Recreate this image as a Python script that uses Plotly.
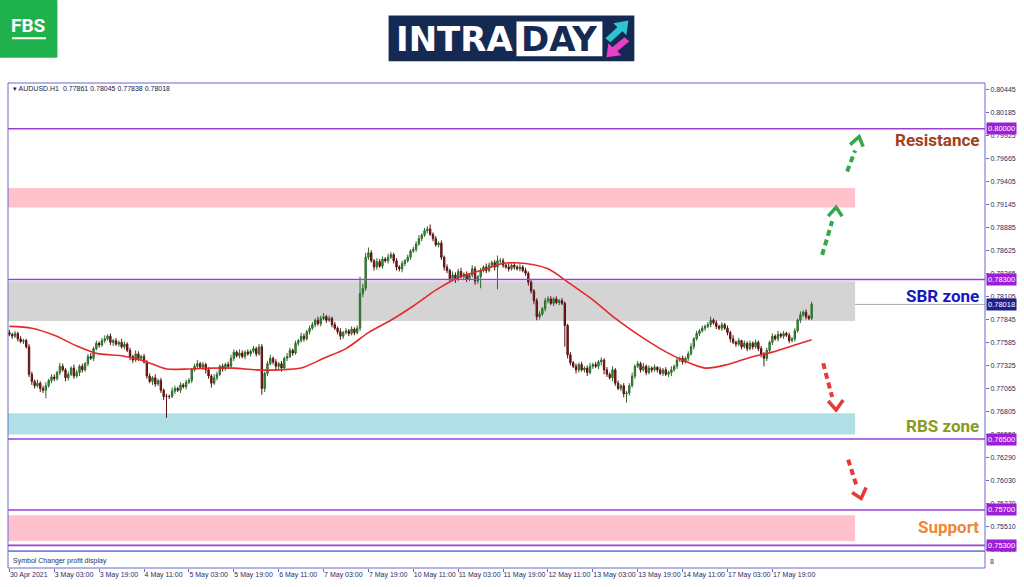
import plotly.graph_objects as go

# ---------------- data ----------------
tick_labels = ["30 Apr 2021", "3 May 03:00", "3 May 19:00", "4 May 11:00", "5 May 03:00",
               "5 May 19:00", "6 May 11:00", "7 May 03:00", "7 May 19:00", "10 May 11:00",
               "11 May 03:00", "11 May 19:00", "12 May 11:00", "13 May 03:00", "13 May 19:00",
               "14 May 11:00", "17 May 03:00", "17 May 19:00"]
bars_per_label = 16

first_open = 0.7770
closes = [
    0.7768, 0.7766, 0.7769, 0.7763, 0.7760, 0.7761, 0.7754, 0.7723, 0.7715, 0.7710, 0.7713, 0.7707, 0.7705, 0.7710, 0.7716, 0.7720,
    0.7718, 0.7725, 0.7732, 0.7728, 0.7719, 0.7723, 0.7730, 0.7721, 0.7725, 0.7732, 0.7728, 0.7735, 0.7743, 0.7741, 0.7752, 0.7758,
    0.7756, 0.7761, 0.7763, 0.7766, 0.7759, 0.7761, 0.7757, 0.7759, 0.7754, 0.7757, 0.7750, 0.7743, 0.7739, 0.7746, 0.7741, 0.7743,
    0.7737, 0.7721, 0.7715, 0.7719, 0.7712, 0.7716, 0.7705, 0.7698, 0.7698, 0.7698, 0.7704, 0.7707, 0.7705, 0.7711, 0.7709, 0.7714,
    0.7716, 0.7728, 0.7732, 0.7735, 0.7731, 0.7734, 0.7728, 0.7721, 0.7713, 0.7719, 0.7723, 0.7732, 0.7729, 0.7734, 0.7732, 0.7741,
    0.7748, 0.7744, 0.7747, 0.7743, 0.7748, 0.7746, 0.7749, 0.7752, 0.7746, 0.7754, 0.7707, 0.7724, 0.7735, 0.7741, 0.7737, 0.7732,
    0.7735, 0.7730, 0.7741, 0.7743, 0.7750, 0.7747, 0.7758, 0.7761, 0.7766, 0.7763, 0.7771, 0.7775, 0.7779, 0.7784, 0.7780, 0.7786,
    0.7788, 0.7784, 0.7786, 0.7779, 0.7775, 0.7771, 0.7766, 0.7770, 0.7772, 0.7769, 0.7774, 0.7770, 0.7775, 0.7814, 0.7820, 0.7855,
    0.7860, 0.7851, 0.7844, 0.7850, 0.7845, 0.7853, 0.7851, 0.7855, 0.7858, 0.7851, 0.7844, 0.7842, 0.7848, 0.7851, 0.7855, 0.7862,
    0.7864, 0.7870, 0.7876, 0.7880, 0.7885, 0.7887, 0.7881, 0.7876, 0.7869, 0.7871, 0.7855, 0.7844, 0.7840, 0.7831, 0.7835, 0.7831,
    0.7839, 0.7833, 0.7836, 0.7830, 0.7835, 0.7842, 0.7828, 0.7833, 0.7840, 0.7844, 0.7840, 0.7846, 0.7849, 0.7844, 0.7851, 0.7851,
    0.7846, 0.7844, 0.7842, 0.7846, 0.7844, 0.7842, 0.7844, 0.7840, 0.7837, 0.7827, 0.7817, 0.7806, 0.7788, 0.7791, 0.7797, 0.7806,
    0.7808, 0.7803, 0.7808, 0.7804, 0.7806, 0.7803, 0.7778, 0.7745, 0.7736, 0.7732, 0.7728, 0.7734, 0.7728, 0.7730, 0.7725, 0.7732,
    0.7734, 0.7732, 0.7737, 0.7739, 0.7728, 0.7723, 0.7719, 0.7728, 0.7713, 0.7707, 0.7710, 0.7701, 0.7702, 0.7710, 0.7721, 0.7732,
    0.7735, 0.7728, 0.7732, 0.7725, 0.7730, 0.7728, 0.7731, 0.7728, 0.7724, 0.7728, 0.7723, 0.7725, 0.7728, 0.7732, 0.7739, 0.7741,
    0.7737, 0.7741, 0.7746, 0.7754, 0.7763, 0.7769, 0.7772, 0.7775, 0.7777, 0.7779, 0.7784, 0.7781, 0.7777, 0.7775, 0.7779, 0.7775,
    0.7770, 0.7763, 0.7759, 0.7757, 0.7761, 0.7754, 0.7758, 0.7752, 0.7758, 0.7754, 0.7759, 0.7752, 0.7746, 0.7741, 0.7750, 0.7759,
    0.7766, 0.7763, 0.7768, 0.7766, 0.7769, 0.7767, 0.7761, 0.7763, 0.7772, 0.7784, 0.7790, 0.7793, 0.7788, 0.77861, 0.78018,
]
# upper / lower wick lengths in pips (0.0001)
wick_up = [
    3, 2, 3, 2, 3, 2, 2, 3, 3, 2, 4, 2, 3, 4, 2, 3,
    3, 2, 4, 3, 2, 3, 2, 4, 3, 2, 3, 2, 3, 4, 2, 3,
    2, 3, 4, 2, 3, 2, 3, 2, 4, 3, 2, 3, 2, 4, 3, 2,
    3, 2, 3, 2, 4, 2, 3, 2, 3, 2, 4, 3, 2, 3, 2, 3,
    3, 2, 3, 4, 2, 3, 2, 3, 2, 4, 3, 2, 3, 2, 3, 4,
    3, 2, 4, 3, 2, 3, 2, 3, 2, 3, 3, 2, 3, 4, 2, 3,
    2, 3, 2, 4, 3, 2, 3, 2, 4, 3, 2, 3, 3, 2, 4, 3,
    4, 2, 3, 2, 3, 2, 4, 2, 3, 2, 3, 2, 3, 19, 5, 5,
    6, 3, 2, 4, 3, 3, 2, 4, 3, 2, 3, 2, 3, 2, 3, 2,
    3, 3, 4, 2, 3, 3, 5, 2, 3, 2, 3, 2, 3, 2, 4, 3,
    3, 4, 2, 3, 2, 4, 3, 2, 3, 2, 4, 3, 2, 3, 6, 3,
    3, 2, 4, 2, 3, 2, 3, 2, 3, 2, 3, 2, 3, 3, 2, 3,
    3, 3, 2, 3, 2, 3, 2, 2, 3, 2, 3, 2, 3, 2, 3, 4,
    2, 3, 2, 3, 2, 3, 2, 4, 2, 3, 2, 3, 2, 3, 4, 2,
    3, 2, 4, 2, 3, 2, 3, 1, 3, 2, 3, 2, 4, 2, 3, 2,
    3, 2, 3, 4, 2, 3, 2, 3, 2, 3, 4, 2, 3, 2, 3, 2,
    3, 2, 4, 2, 3, 1, 3, 2, 3, 2, 3, 2, 3, 2, 3, 2,
    3, 2, 4, 2, 3, 2, 3, 2, 3, 2, 4, 2, 3, 2, 3,
]
wick_dn = [
    2, 3, 2, 3, 2, 3, 2, 3, 4, 3, 2, 4, 3, 9, 2, 3,
    3, 2, 3, 2, 4, 3, 2, 3, 2, 4, 3, 2, 3, 2, 3, 2,
    3, 2, 3, 2, 3, 4, 2, 3, 2, 3, 2, 4, 3, 2, 3, 2,
    2, 3, 2, 4, 3, 2, 3, 4, 24, 3, 2, 3, 2, 3, 2, 3,
    2, 3, 2, 3, 2, 3, 4, 3, 5, 2, 3, 2, 3, 2, 3, 2,
    3, 2, 3, 2, 3, 2, 3, 2, 3, 2, 7, 4, 3, 2, 3, 4,
    3, 4, 2, 3, 2, 3, 2, 3, 2, 3, 2, 3, 2, 3, 2, 3,
    2, 3, 2, 3, 2, 3, 4, 3, 2, 3, 2, 3, 2, 3, 4, 3,
    3, 2, 4, 3, 2, 3, 2, 3, 2, 3, 4, 3, 4, 3, 2, 3,
    2, 3, 2, 3, 2, 3, 2, 3, 2, 3, 3, 4, 3, 4, 3, 5,
    3, 2, 4, 3, 2, 3, 4, 3, 13, 2, 3, 2, 3, 4, 25, 3,
    3, 2, 3, 2, 3, 2, 3, 2, 3, 4, 3, 4, 4, 3, 2, 3,
    3, 2, 3, 2, 3, 2, 24, 4, 3, 2, 4, 3, 2, 3, 4, 2,
    3, 2, 3, 4, 5, 3, 2, 4, 3, 2, 3, 4, 10, 3, 2, 3,
    2, 3, 2, 3, 2, 3, 2, 3, 2, 3, 2, 3, 4, 2, 3, 2,
    3, 2, 3, 2, 3, 2, 3, 2, 3, 2, 3, 2, 3, 2, 3, 2,
    3, 4, 2, 3, 2, 3, 2, 3, 2, 3, 2, 3, 4, 9, 3, 2,
    3, 2, 3, 2, 3, 2, 3, 2, 3, 2, 3, 2, 3, 2, 2,
]

# moving average (red line), read at every 8th bar
ma_bars = [0, 8, 16, 24, 32, 40, 48, 56, 64, 72, 80, 88, 96, 104, 112, 120, 128, 136, 144, 152,
           160, 168, 176, 184, 192, 200, 208, 216, 224, 232, 240, 248, 256, 264, 272, 280, 286]
ma_vals = [0.7777, 0.7775, 0.7767, 0.7755, 0.7746, 0.7744, 0.7738, 0.7729, 0.7729, 0.7730,
           0.7730, 0.7728, 0.7728, 0.7730, 0.7741, 0.7752, 0.7770, 0.7784, 0.7800, 0.7818,
           0.7832, 0.7840, 0.7848, 0.7848, 0.7842, 0.7825, 0.7807, 0.7786, 0.7768, 0.7752,
           0.7739, 0.7730, 0.7734, 0.7742, 0.7748, 0.7756, 0.7762]

# horizontal levels and zones
levels = [0.80000, 0.78300, 0.76500, 0.75700, 0.75300]
level_labels = ["0.80000", "0.78300", "0.76500", "0.75700", "0.75300"]
zones_lo = [0.7911, 0.7783, 0.7655, 0.7535]
zones_hi = [0.7933, 0.7828, 0.7679, 0.7564]
zone_colors = ["#ffc2cc", "#d4d4d4", "#b0e0e6", "#ffc2cc"]
zone_end_bar = 301.5
bid = 0.78018

price_ticks = [0.80445, 0.80185, 0.79925, 0.79665, 0.79405, 0.79145, 0.78885, 0.78625, 0.78365,
               0.78105, 0.77845, 0.77585, 0.77325, 0.77065, 0.76805, 0.76550, 0.76290, 0.76030,
               0.75770, 0.75510, 0.75250]
price_tick_text = ["%.5f" % v for v in price_ticks]

# ---------------- layout helpers (pixel -> paper) ----------------
L, R, T, B = 8, 986, 83, 571
MAIN_BOTTOM = 554


def fx(px):
    return (px - L) / (R - L)


def fy(py):
    return (B - py) / (B - T)


n = len(closes)
bars = list(range(n))
opens = [first_open] + closes[:-1]
highs = [max(o, c) + u / 10000 for o, c, u in zip(opens, closes, wick_up)]
lows = [min(o, c) - d / 10000 for o, c, d in zip(opens, closes, wick_dn)]

fig = go.Figure()
fig.add_trace(go.Candlestick(
    x=bars, open=opens, high=highs, low=lows, close=closes,
    increasing=dict(line=dict(color="#2a6a2a", width=1), fillcolor="#3fa03f"),
    decreasing=dict(line=dict(color="#5a1010", width=1), fillcolor="#8e1c1c"),
    whiskerwidth=0, hoverinfo="skip", showlegend=False, xaxis="x", yaxis="y"))
fig.add_trace(go.Scatter(
    x=ma_bars, y=ma_vals, mode="lines", line=dict(color="#e8272a", width=1.6, shape="spline", smoothing=0.8),
    hoverinfo="skip", showlegend=False, xaxis="x", yaxis="y"))
fig.add_trace(go.Scatter(x=[0], y=[0.5], mode="markers", marker=dict(opacity=0),
                         hoverinfo="skip", showlegend=False, xaxis="x", yaxis="y2"))

shapes = []
# zones
for lo, hi, col in zip(zones_lo, zones_hi, zone_colors):
    shapes.append(dict(type="rect", xref="x", yref="y", x0=-0.5, x1=zone_end_bar, y0=lo, y1=hi,
                       fillcolor=col, line=dict(width=0), layer="below"))
# bid line
shapes.append(dict(type="line", xref="paper", yref="y", x0=0, x1=1, y0=bid, y1=bid,
                   line=dict(color="#a8a8a8", width=1), layer="below"))
# level lines
for lv in levels:
    shapes.append(dict(type="line", xref="paper", yref="y", x0=0, x1=1, y0=lv, y1=lv,
                       line=dict(color="#9b3fd6", width=1.6), layer="above"))
# pane frames
frame = "#6868d0"
shapes.append(dict(type="rect", xref="paper", yref="paper", x0=0, x1=1, y0=fy(MAIN_BOTTOM), y1=1,
                   line=dict(color=frame, width=1)))
shapes.append(dict(type="rect", xref="paper", yref="paper", x0=0, x1=1, y0=0, y1=fy(MAIN_BOTTOM),
                   line=dict(color=frame, width=1)))


# dashed arrows
def arrow(p0, p1, tip, a1, a2, color):
    shapes.append(dict(type="line", xref="paper", yref="paper",
                       x0=fx(p0[0]), y0=fy(p0[1]), x1=fx(p1[0]), y1=fy(p1[1]),
                       line=dict(color=color, width=4, dash="6px,4px")))
    path = "M %f,%f L %f,%f L %f,%f" % (fx(a1[0]), fy(a1[1]), fx(tip[0]), fy(tip[1]), fx(a2[0]), fy(a2[1]))
    shapes.append(dict(type="path", xref="paper", yref="paper", path=path,
                       line=dict(color=color, width=3.5)))


green, red = "#33a84a", "#e53a3a"
arrow((823, 256), (833, 222), (837, 208), (829, 217), (843, 217), green)
arrow((848, 172), (856, 151), (860, 137), (851, 145), (864, 147), green)
arrow((824, 365), (833, 399), (837, 412), (829, 403), (844, 402), red)
arrow((849, 462), (857, 487), (862, 501), (853, 495), (867, 490), red)

# FBS logo
shapes.append(dict(type="rect", xref="paper", yref="paper", x0=fx(0), x1=fx(57), y0=fy(57), y1=fy(0),
                   fillcolor="#1fb24c", line=dict(color="#1fb24c", width=1)))
shapes.append(dict(type="line", xref="paper", yref="paper", x0=fx(12), x1=fx(46), y0=fy(38), y1=fy(38),
                   line=dict(color="white", width=2)))
# INTRADAY logo
shapes.append(dict(type="rect", xref="paper", yref="paper", x0=fx(389), x1=fx(635), y0=fy(61), y1=fy(15),
                   fillcolor="#152a52", line=dict(width=0)))
shapes.append(dict(type="rect", xref="paper", yref="paper", x0=fx(517), x1=fx(603), y0=fy(56), y1=fy(21),
                   fillcolor="white", line=dict(width=0)))
cyan_path = "M %f,%f L %f,%f L %f,%f L %f,%f L %f,%f L %f,%f L %f,%f Z" % (
    fx(606), fy(38), fx(618), fy(27), fx(614), fy(23), fx(629), fy(20), fx(627), fy(35),
    fx(623), fy(31), fx(611), fy(42))
mag_path = "M %f,%f L %f,%f L %f,%f L %f,%f L %f,%f L %f,%f L %f,%f Z" % (
    fx(630), fy(41), fx(618), fy(51), fx(622), fy(55), fx(607), fy(57), fx(609), fy(43),
    fx(613), fy(47), fx(625), fy(37))
shapes.append(dict(type="path", xref="paper", yref="paper", path=cyan_path, fillcolor="#2ec4d0", line=dict(width=0)))
shapes.append(dict(type="path", xref="paper", yref="paper", path=mag_path, fillcolor="#e83fc8", line=dict(width=0)))

ann = []
small = dict(family="Liberation Sans, Arial", size=7, color="#2b2b66")
ann.append(dict(xref="paper", yref="paper", x=fx(11), y=fy(89), xanchor="left", yanchor="middle",
                text="\u25BE AUDUSD.H1  0.77861 0.78045 0.77838 0.78018", showarrow=False,
                font=dict(family="Liberation Sans, Arial", size=7, color="#202040")))
ann.append(dict(xref="paper", yref="paper", x=fx(11), y=fy(564), xanchor="left", yanchor="middle",
                text="Symbol Changer profit display", showarrow=False,
                font=dict(family="Liberation Sans, Arial", size=7, color="#303050")))
ann.append(dict(xref="paper", yref="paper", x=fx(989), y=fy(564), xanchor="left", yanchor="middle",
                text="8", showarrow=False, font=small))
lab_font = dict(family="Liberation Sans, Arial", size=7.5, color="white")
for lv, lab in zip(levels, level_labels):
    ann.append(dict(xref="paper", yref="y", x=1, y=lv, xanchor="left", yanchor="middle", xshift=1,
                    text=lab, showarrow=False, bgcolor="#9a1fd6", borderpad=1, font=lab_font))
ann.append(dict(xref="paper", yref="y", x=1, y=bid, xanchor="left", yanchor="middle", xshift=1,
                text="%.5f" % bid, showarrow=False, bgcolor="#1f1f8f", borderpad=1, font=lab_font))
big = dict(family="Roboto", size=17)
for txt, py, col in [("Resistance", 140, "#a33e1b"), ("SBR zone", 297, "#1616c4"),
                     ("RBS zone", 428, "#8a9a1c"), ("Support", 530, "#f0853a")]:
    ann.append(dict(xref="paper", yref="paper", x=fx(982), y=fy(py), xanchor="right", yanchor="middle",
                    text="<b>%s</b>" % txt, showarrow=False, font=dict(color=col, **big)))
ann.append(dict(xref="paper", yref="paper", x=fx(29), y=fy(25), xanchor="center", yanchor="middle",
                text="<b>FBS</b>", showarrow=False, font=dict(family="Roboto", size=19, color="white")))
ann.append(dict(xref="paper", yref="paper", x=fx(516), y=fy(39), xanchor="right", yanchor="middle",
                text="<b>INTRA</b>", showarrow=False, font=dict(family="DejaVu Sans", size=34, color="white")))
ann.append(dict(xref="paper", yref="paper", x=fx(560), y=fy(39), xanchor="center", yanchor="middle",
                text="<b>DAY</b>", showarrow=False, font=dict(family="DejaVu Sans", size=34, color="#152a52")))

fig.update_layout(
    width=1024, height=587, margin=dict(l=L, r=1024 - R, t=T, b=587 - B),
    paper_bgcolor="white", plot_bgcolor="white", showlegend=False, hovermode=False,
    shapes=shapes, annotations=ann,
    xaxis=dict(domain=[0, 1], anchor="y2", range=[-0.5, 347.8], rangeslider=dict(visible=False),
               tickmode="array", tickvals=[i * bars_per_label for i in range(len(tick_labels))],
               ticktext=tick_labels, ticks="outside", ticklen=3, tickcolor=frame, tickangle=0,
               ticklabelposition="outside right", tickfont=small, showgrid=False, zeroline=False,
               showline=False),
    yaxis=dict(domain=[fy(MAIN_BOTTOM), 1], side="right", anchor="x", range=[0.752355, 0.805157],
               tickmode="array", tickvals=price_ticks, ticktext=price_tick_text, ticks="outside",
               ticklen=3, tickcolor=frame, tickfont=small, showgrid=False, zeroline=False,
               showline=False),
    yaxis2=dict(domain=[0, fy(MAIN_BOTTOM)], anchor="x", range=[0, 1], showticklabels=False,
                ticks="", showgrid=False, zeroline=False),
)

fig.write_html("out.html", config={"displayModeBar": False},
               post_script="document.body.style.margin='0';document.body.style.overflow='hidden';")
